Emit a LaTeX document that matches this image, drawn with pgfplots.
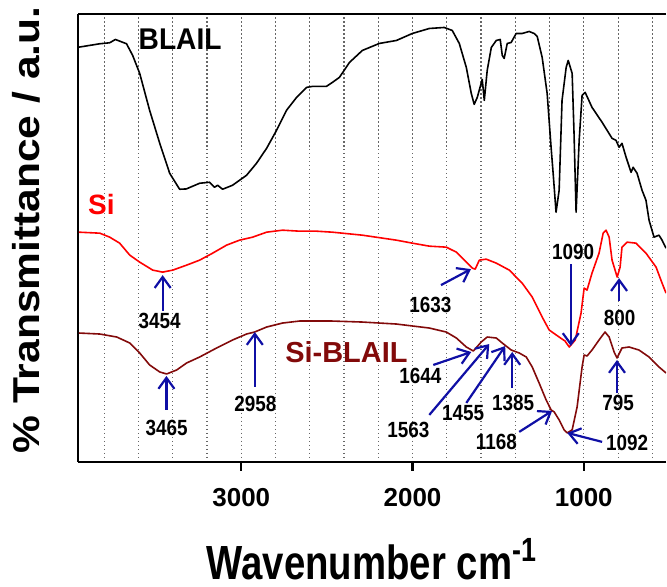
\documentclass[border=0pt]{standalone}
\usepackage{fontspec}
\setmainfont{Liberation Sans}
\newfontfamily\fA[FakeStretch=0.86]{Liberation Sans}
\newfontfamily\fX[FakeStretch=0.8]{Liberation Sans}
\newfontfamily\fB[FakeStretch=0.94]{Liberation Sans}
\usepackage{pgfplots}
\pgfplotsset{compat=1.18}
\usetikzlibrary{arrows.meta}
\definecolor{maroonc}{RGB}{130,10,10}
\definecolor{navyc}{RGB}{15,15,165}
\newcommand\pk{\fA\bfseries\fontsize{11}{13}\selectfont}
\begin{document}
\begin{tikzpicture}
\begin{axis}[
  scale only axis, width=294.5pt, height=224.5pt,
  x dir=reverse, xmin=520, xmax=3954,
  y dir=reverse, ymin=13, ymax=462,
  axis y line=left, y axis line style={-},
  axis x line=box,
  axis line style={line width=1pt},
  ytick=\empty,
  xtick={1000,2000,3000},
  minor xtick={600,800,...,3800},
  xmajorgrids, xminorgrids,
  major grid style={black!60, line width=0.55pt, dash pattern=on 0.6pt off 1.4pt},
  minor grid style={black!60, line width=0.55pt, dash pattern=on 0.6pt off 1.4pt},
  xtick pos=left,
  tick align=outside,
  major tick length=4.5pt, minor tick length=0pt,
  every tick/.style={black, line width=1.1pt},
  /pgf/number format/assume math mode=true,
  /pgf/number format/1000 sep={},
  xticklabel style={font=\bfseries\fontsize{13}{15}\selectfont, yshift=-5.5pt},
  xlabel={\fX\bfseries\fontsize{24}{28}\selectfont Wavenumber cm\textsuperscript{-1}},
  xlabel style={at={(axis description cs:0.5,0)}, anchor=base, yshift=-59pt},
  ylabel={\scalebox{1}[0.88]{\bfseries\fontsize{21.3}{25}\selectfont \% Transmittance / a.u.}},
  ylabel style={at={(axis description cs:-0.0645,0.517)}, anchor=base},
  clip=true,
]
% BLAIL
\addplot[black, line width=0.8pt, line join=round] coordinates {
(3948,46.7)(3826,43.3)(3768,42.3)(3735,39)(3670,43.3)(3634,55)(3593,73)(3535,110)
(3476,143)(3418,173)(3360,189)(3321,188.7)(3243,183)(3185,182)(3156,187)(3138,185)
(3109,189)(3051,185)(2969,175)(2911,163)(2852,148)(2794,130)(2736,110)(2677,97)
(2619,87)(2584,86)(2503,86)(2468,82)(2427,77)(2368,62)(2293,50)(2194,43)(2094,40)
(2001,33)(1902,28)(1815,27)(1768,30)(1727,43)(1686,67)(1657,93)(1640,104)(1622,97)
(1593,79)(1581,100)(1564,70)(1540,47)(1511,40)(1488,39)(1476,55)(1465,58)(1447,43)
(1424,42)(1395,33)(1360,33)(1319,31)(1290,33)(1272,36)(1243,57)(1214,93)(1191,147)
(1179,173)(1162,212)(1144,190)(1127,100)(1103,67)(1091,60)(1068,73)(1057,133)
(1045,212)(1027,140)(1010,95)(992,92)(952,107)(893,122)(835,138)(812,140)(794,147)
(777,143)(753,157)(724,172)(712,167)(689,173)(660,190)(637,200)(619,220)(590,237)
(561,235)(543,240)(520,248)
};
% Si
\addplot[red, line width=0.8pt, line join=round] coordinates {
(3948,232)(3826,233)(3768,237)(3710,243)(3651,255)(3593,262)(3517,270)(3459,272)
(3400,270)(3319,265)(3243,260)(3167,253)(3086,245)(3010,240)(2934,237)(2852,232)
(2759,230)(2660,231)(2561,231)(2468,232)(2293,235)(2094,240)(2001,243)(1902,246)
(1803,247)(1744,252)(1686,262)(1651,268)(1634,269)(1610,260)(1570,259)(1511,263)
(1435,270)(1360,283)(1301,297)(1243,317)(1202,330)(1144,337)(1110,341)(1085,347)
(1050,340)(1016,313)(998,288)(981,290)(952,273)(911,253)(887,233)(870,230)(852,237)
(835,260)(805,277)(788,267)(777,247)(747,242)(695,243)(637,253)(578,267)(543,283)
(520,293)
};
% Si-BLAIL
\addplot[maroonc, line width=0.8pt, line join=round] coordinates {
(3948,333)(3826,334)(3727,337)(3651,343)(3593,353)(3535,365)(3476,372)(3436,374)
(3377,370)(3319,363)(3243,357)(3144,348)(3051,340)(2969,334)(2922,332)(2852,327)
(2759,323)(2660,321)(2468,321)(2293,322)(2094,324)(1902,328)(1803,332)(1744,338)
(1686,347)(1645,351)(1599,342)(1564,337)(1511,338)(1476,343)(1424,350)(1377,353)
(1336,357)(1301,367)(1261,383)(1220,400)(1191,410)(1173,412)(1144,420)(1115,430)
(1097,433)(1068,430)(1039,407)(1010,367)(998,355)(981,356)(952,350)(911,340)
(876,332)(852,337)(823,352)(806,358)(777,348)(736,347)(678,350)(619,357)(561,367)
(520,373)
};
% series names
\node[inner sep=0, font=\fB\bfseries\fontsize{15}{18}\selectfont] at (axis cs:3357,39) {BLAIL};
\node[inner sep=0, red, font=\bfseries\fontsize{14}{17}\selectfont] at (axis cs:3817,204) {Si};
\node[inner sep=0, maroonc, font=\bfseries\fontsize{14.5}{17}\selectfont] at (axis cs:2386,352) {Si-BLAIL};
% arrows
\begin{scope}[navyc, line width=1.1pt, -{Straight Barb[length=5.5pt,width=8pt,line width=1.1pt]}]
\draw (axis cs:3459,311) -- (axis cs:3459,275);
\draw (axis cs:3437,410) -- (axis cs:3437,376);
\draw (axis cs:2921,387) -- (axis cs:2921,332);
\draw (axis cs:1834,285) -- (axis cs:1659,269);
\draw (axis cs:1076,264) -- (axis cs:1076,346);
\draw (axis cs:794,301) -- (axis cs:794,278);
\draw (axis cs:1879,365) -- (axis cs:1657,352);
\draw (axis cs:1902,415) -- (axis cs:1552,344);
\draw (axis cs:1686,403) -- (axis cs:1459,346);
\draw (axis cs:1418,388) -- (axis cs:1418,352);
\draw (axis cs:1377,432) -- (axis cs:1185,411);
\draw (axis cs:893,442) -- (axis cs:1097,433);
\draw (axis cs:806,393) -- (axis cs:806,360);
\end{scope}
% peak labels
\begin{scope}[every node/.style={inner sep=0, font=\pk}]
\node at (axis cs:3476,320.5) {3454};
\node at (axis cs:3436,428) {3465};
\node at (axis cs:2917,404) {2958};
\node at (axis cs:1896,305) {1633};
\node at (axis cs:1062,252) {1090};
\node at (axis cs:791,317.5) {800};
\node at (axis cs:1954,376) {1644};
\node at (axis cs:2024,430) {1563};
\node at (axis cs:1704,413) {1455};
\node at (axis cs:1412,403) {1385};
\node at (axis cs:1511,442) {1168};
\node at (axis cs:747,443) {1092};
\node at (axis cs:800,403) {795};
\end{scope}
\end{axis}
\path[use as bounding box] ([shift={(-39pt,-61.5pt)}]current axis.south west) rectangle ([shift={(0pt,6.5pt)}]current axis.north east);
\end{tikzpicture}
\end{document}
